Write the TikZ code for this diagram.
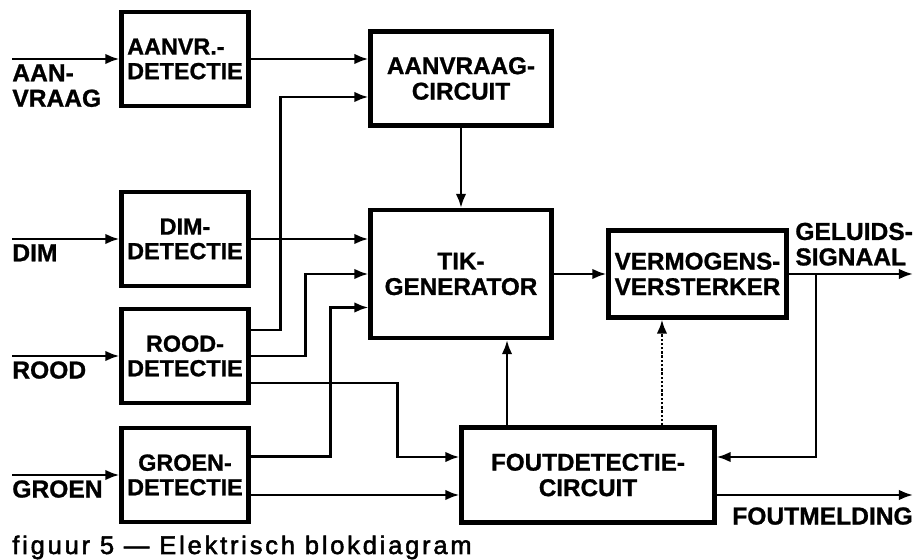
\documentclass[tikz,border=0pt]{standalone}
\usepackage{fontspec}
\setmainfont{Liberation Sans}
\usetikzlibrary{arrows.meta}

\begin{document}
\begin{tikzpicture}[x=0.02cm, y=-0.02cm,
    block/.style={rectangle, draw, line width=2.4pt, align=center, inner sep=1pt,
        font=\bfseries\fontsize{13.8}{14.5}\selectfont\addfontfeature{FakeBold=1}},
    det/.style={block, minimum width=2.54cm, minimum height=1.88cm,
        font=\bfseries\fontsize{13.3}{14}\selectfont\addfontfeature{FakeBold=1}},
    sig/.style={line width=1.4pt, -{Latex[length=8pt, width=6pt]}},
    lbl/.style={font=\bfseries\fontsize{14}{14.5}\selectfont\addfontfeature{FakeBold=1},
        align=left, inner sep=0pt}
]
    \useasboundingbox (0,0) rectangle (917,560);

    % detectie blocks
    \node[det, align=left] (D_a) at (185,59) {AANVR.-\\DETECTIE};
    \node[det] (D_d) at (185,239) {DIM-\\DETECTIE};
    \node[det] (D_r) at (185,356) {ROOD-\\DETECTIE};
    \node[det] (D_g) at (185,475) {GROEN-\\DETECTIE};

    % circuits
    \node[block, minimum width=3.62cm, minimum height=1.88cm] (AC) at (461,78.5) {AANVRAAG-\\CIRCUIT};
    \node[block, minimum width=3.62cm, minimum height=2.56cm] (TG) at (461,274) {TIK-\\GENERATOR};
    \node[block, minimum width=3.56cm, minimum height=1.74cm, align=left] (VV) at (697.5,274) {VERMOGENS-\\VERSTERKER};
    \node[block, minimum width=5.06cm, minimum height=1.9cm] (FC) at (588,475) {FOUTDETECTIE-\\CIRCUIT};

    % inputs
    \coordinate (IN_a) at (12,59);
    \coordinate (IN_d) at (12,239);
    \coordinate (IN_r) at (12,356);
    \coordinate (IN_g) at (12,475);

    \node[lbl, anchor=north west] (L_a) at (12,64) {AAN-\\VRAAG};
    \node[lbl, anchor=north west] (L_d) at (12,244) {DIM};
    \node[lbl, anchor=north west] (L_r) at (12,361) {ROOD};
    \node[lbl, anchor=north west] (L_g) at (12,480) {GROEN};

    \draw[sig] (IN_a) -- (D_a);
    \draw[sig] (IN_d) -- (D_d);
    \draw[sig] (IN_r) -- (D_r);
    \draw[sig] (IN_g) -- (D_g);

    % outputs
    \coordinate (TAP) at (816,274);
    \coordinate (OUT_s) at (913,274);
    \coordinate (OUT_f) at (913,495);

    \node[lbl, anchor=south west] (L_s) at (795,266) {GELUIDS-\\SIGNAAL};
    \node[lbl, anchor=north east] (L_f) at (913,507) {FOUTMELDING};

    % connections
    \draw[sig] (D_a) -- (AC.west |- D_a);
    \draw[sig] ([yshift=0.52cm]D_r.east) -- ++(30,0) |- ([yshift=-0.37cm]AC.west);
    \draw[sig] (D_d) -- (TG.west |- D_d);
    \draw[sig] (D_r.east) -- ++(55,0) |- (TG.west);
    \draw[sig] ([yshift=0.37cm]D_g.east) -- ++(80,0) |- ([yshift=-0.67cm]TG.west);
    \draw[sig] ([yshift=-0.54cm]D_r.east) -- ++(147,0) |- ([yshift=0.36cm]FC.west);
    \draw[sig] ([yshift=-0.4cm]D_g.east) -- ([yshift=-0.4cm]D_g.east -| FC.west);

    \draw[sig] (AC) -- (TG);
    \draw[sig] (TG) -- (VV);
    \draw[sig] (VV) -- (OUT_s);
    \draw[sig] (TAP) |- ([yshift=0.36cm]FC.east);
    \draw[sig] (FC.east |- OUT_f) -- (OUT_f);
    \draw[sig] ([xshift=-1.62cm]FC.north) -- ([xshift=-1.62cm]FC.north |- TG.south);
    \draw[sig, densely dotted] ([xshift=1.48cm]FC.north) -- ([xshift=1.48cm]FC.north |- VV.south);

    % caption
    \node[anchor=base west, inner sep=0pt,
        font=\fontsize{14.5}{17}\selectfont\addfontfeature{FakeBold=2,LetterSpace=11}]
        (CAP) at (12,554) {figuur 5 — Elektrisch blokdiagram};

\end{tikzpicture}
\end{document}
